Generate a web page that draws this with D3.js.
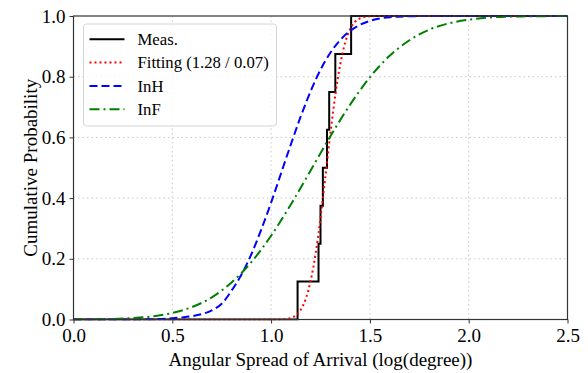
<!DOCTYPE html>
<html>
<head>
<meta charset="utf-8">
<script src="https://cdn.jsdelivr.net/npm/d3@7"></script>
<style>
    body { margin: 0; background: #fff; }
    text { font-family: "Liberation Serif", "Times New Roman", serif; fill: #000; }
</style>
</head>
<body>
<div id="chart"></div>
<script>
var xTicks = [0, 0.5, 1.0, 1.5, 2.0, 2.5];
var yTicks = [0, 0.2, 0.4, 0.6, 0.8, 1.0];

// measured ECDF (8 samples)
var measX = [0, 1.134, 1.240, 1.250, 1.262, 1.283, 1.294, 1.325, 1.405, 2.5];
var measP = [0, 0.125, 0.25, 0.375, 0.5, 0.625, 0.75, 0.875, 1.0, 1.0];

// fitted curve
var fitX = [0, 1.0, 1.05, 1.1, 1.125, 1.15, 1.175, 1.2, 1.225, 1.25, 1.275, 1.3, 1.325, 1.35, 1.375, 1.4, 1.425, 1.45, 1.5, 1.55, 2.5];
var fitP = [0, 0, 0.0005, 0.005, 0.013, 0.032, 0.067, 0.127, 0.216, 0.334, 0.472, 0.613, 0.740, 0.841, 0.913, 0.957, 0.981, 0.992, 0.999, 1.0, 1.0];

var inhX = [0, 0.2, 0.4, 0.5, 0.55, 0.6, 0.65, 0.7, 0.75, 0.8, 0.85, 0.9, 0.95, 1.0, 1.05, 1.1, 1.15, 1.2, 1.25, 1.3, 1.35, 1.4, 1.45, 1.5, 1.6, 1.7, 1.8, 2.0, 2.5];
var inhP = [0, 0, 0.001, 0.004, 0.007, 0.011, 0.018, 0.030, 0.052, 0.095, 0.148, 0.215, 0.296, 0.385, 0.481, 0.577, 0.669, 0.752, 0.823, 0.879, 0.921, 0.951, 0.971, 0.984, 0.996, 0.999, 1.0, 1.0, 1.0];

var infX = [0, 0.1, 0.2, 0.3, 0.4, 0.5, 0.6, 0.7, 0.8, 0.9, 1.0, 1.1, 1.2, 1.3, 1.4, 1.5, 1.6, 1.7, 1.8, 1.9, 2.0, 2.1, 2.2, 2.3, 2.5];
var infP = [0.0003, 0.0008, 0.002, 0.005, 0.0105, 0.0215, 0.041, 0.073, 0.122, 0.189, 0.276, 0.379, 0.491, 0.604, 0.708, 0.798, 0.869, 0.920, 0.955, 0.976, 0.988, 0.995, 0.998, 0.999, 1.0];

var svgWidth = 588;
var svgHeight = 373;

var margin = { top: 16, right: 20.5, bottom: 53.5, left: 73.5 };
var width = svgWidth - margin.left - margin.right;
var height = svgHeight - margin.top - margin.bottom;

var svg = d3.select("#chart")
    .append("svg")
    .attr("width", svgWidth)
    .attr("height", svgHeight);

var chartGroup = svg.append("g")
    .attr("transform", `translate(${margin.left}, ${margin.top})`);

var xScale = d3.scaleLinear().domain([0, 2.5]).range([0, width]);
var yScale = d3.scaleLinear().domain([0, 1]).range([height, 0]);

// grid
chartGroup.append("g")
    .selectAll("line")
    .data(xTicks.slice(1, -1))
    .enter()
    .append("line")
    .attr("x1", d => xScale(d)).attr("x2", d => xScale(d))
    .attr("y1", 0).attr("y2", height)
    .attr("stroke", "#c8c8c8").attr("stroke-width", 1)
    .attr("stroke-dasharray", "1.5,3");

chartGroup.append("g")
    .selectAll("line")
    .data(yTicks.slice(1, -1))
    .enter()
    .append("line")
    .attr("x1", 0).attr("x2", width)
    .attr("y1", d => yScale(d)).attr("y2", d => yScale(d))
    .attr("stroke", "#c8c8c8").attr("stroke-width", 1)
    .attr("stroke-dasharray", "1.5,3");

chartGroup.append("clipPath")
    .attr("id", "plotClip")
    .append("rect")
    .attr("x", 0).attr("y", -1)
    .attr("width", width).attr("height", height + 2);

function toPoints(xs, ps)
{
    return xs.map((x, i) => [x, ps[i]]);
}

var series = [
    { name: "Meas.", pts: toPoints(measX, measP), color: "#000000", dash: null, width: 2, curve: d3.curveStepAfter },
    { name: "Fitting (1.28 / 0.07)", pts: toPoints(fitX, fitP), color: "#ff0000", dash: "2,3", width: 2, curve: d3.curveMonotoneX },
    { name: "InH", pts: toPoints(inhX, inhP), color: "#0000ff", dash: "8,4", width: 2, curve: d3.curveMonotoneX },
    { name: "InF", pts: toPoints(infX, infP), color: "#008000", dash: "10,4,2,4", width: 2, curve: d3.curveMonotoneX }
];

var linesGroup = chartGroup.append("g").attr("clip-path", "url(#plotClip)");

series.forEach(s =>
{
    var line = d3.line()
        .x(d => xScale(d[0]))
        .y(d => yScale(d[1]))
        .curve(s.curve);
    linesGroup.append("path")
        .datum(s.pts)
        .attr("d", line)
        .attr("fill", "none")
        .attr("stroke", s.color)
        .attr("stroke-width", s.width)
        .attr("stroke-dasharray", s.dash);
});

// axes
var bottomAxis = d3.axisBottom(xScale)
    .tickValues(xTicks)
    .tickFormat(d3.format(".1f"))
    .tickSizeInner(4).tickSizeOuter(0).tickPadding(5);
var leftAxis = d3.axisLeft(yScale)
    .tickValues(yTicks)
    .tickFormat(d3.format(".1f"))
    .tickSizeInner(4).tickSizeOuter(0).tickPadding(4);

var xAxis = chartGroup.append("g")
    .attr("transform", `translate(0, ${height})`)
    .call(bottomAxis);
var yAxis = chartGroup.append("g").call(leftAxis);

[xAxis, yAxis].forEach(ax =>
{
    ax.select(".domain").remove();
    ax.selectAll("line").attr("stroke", "#333").attr("stroke-width", 1);
    ax.selectAll("text").attr("font-size", "19px").attr("fill", "#000");
});

// frame
chartGroup.append("rect")
    .attr("x", 0).attr("y", 0)
    .attr("width", width).attr("height", height)
    .attr("fill", "none")
    .attr("stroke", "#333")
    .attr("stroke-width", 1.2);

// axis labels
chartGroup.append("text")
    .attr("x", width / 2)
    .attr("y", height + 46)
    .attr("text-anchor", "middle")
    .attr("font-size", "19px")
    .text("Angular Spread of Arrival (log(degree))");

chartGroup.append("text")
    .attr("transform", "rotate(-90)")
    .attr("x", -height / 2)
    .attr("y", -37)
    .attr("text-anchor", "middle")
    .attr("font-size", "19px")
    .text("Cumulative Probability");

// legend
var legend = chartGroup.append("g")
    .attr("transform", "translate(10, 8)");

legend.append("rect")
    .attr("x", 0).attr("y", 0)
    .attr("width", 193).attr("height", 102)
    .attr("rx", 3)
    .attr("fill", "#fff").attr("fill-opacity", 0.8)
    .attr("stroke", "#d5d5d5").attr("stroke-width", 1);

series.forEach((s, i) =>
{
    var cy = 15.3 + i * 23.3;
    legend.append("line")
        .attr("x1", 6).attr("x2", 41)
        .attr("y1", cy).attr("y2", cy)
        .attr("stroke", s.color)
        .attr("stroke-width", s.width)
        .attr("stroke-dasharray", s.dash);
    legend.append("text")
        .attr("x", 54)
        .attr("y", cy)
        .attr("dy", "0.35em")
        .attr("font-size", "16.7px")
        .text(s.name);
});
</script>
</body>
</html>
